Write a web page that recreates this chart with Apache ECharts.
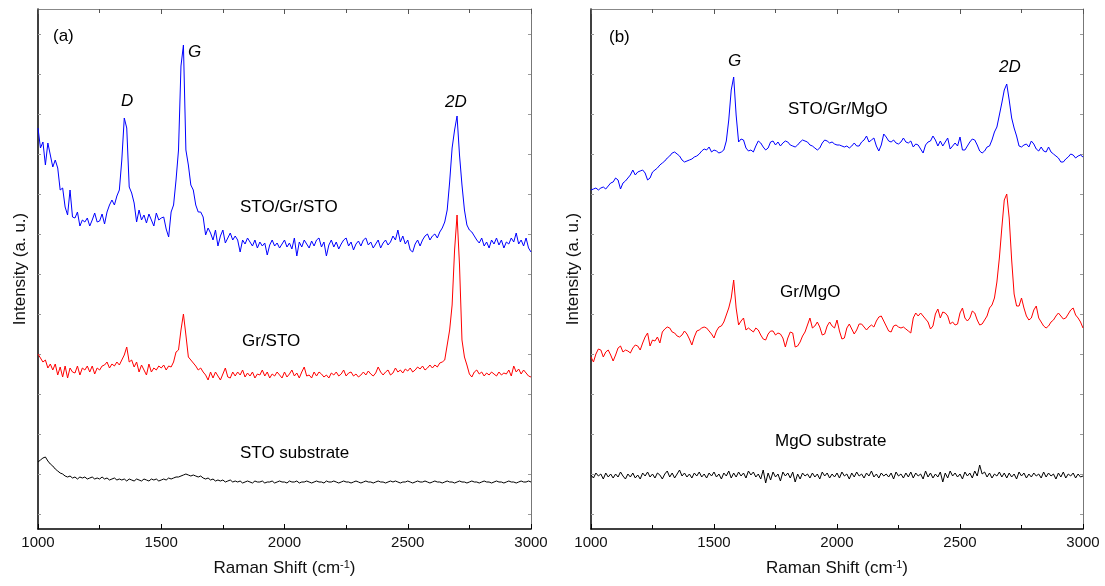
<!DOCTYPE html>
<html>
<head>
<meta charset="utf-8">
<script src="https://cdn.jsdelivr.net/npm/echarts@6/dist/echarts.min.js"></script>
<style>
  html, body { margin: 0; padding: 0; background: #fff; }
  #chart { width: 1105px; height: 586px; }
</style>
</head>
<body>
<div id="chart"></div>
<script>
// Raman shift grid: 1000 .. 3000 cm-1, one sample every 10 cm-1
var X_START = 1000;
var X_STEP = 10;

// (a) STO/Gr/STO
var stoGrSto = [
  872,852,858,835,857,845,833,840,832,810,
  812,793,785,810,783,782,788,774,780,778,
  782,774,780,787,778,779,786,776,788,795,
  800,795,804,810,840,882,872,813,807,797,
  778,790,780,785,777,786,780,774,787,780,
  782,783,771,763,788,795,820,850,934,955,
  850,835,815,810,795,788,788,783,765,772,
  767,760,770,754,764,770,757,762,767,760,
  764,760,748,760,756,762,758,754,760,752,
  758,754,757,745,755,760,754,757,752,756,
  760,753,757,751,762,744,758,753,760,756,
  752,759,754,760,762,753,758,744,755,760,
  753,758,751,756,760,762,754,758,750,756,
  759,754,760,762,755,758,752,756,760,752,
  757,760,755,758,764,760,770,758,764,756,
  760,750,748,756,760,754,760,764,766,760,
  764,766,762,768,772,778,790,818,852,870,
  884,845,815,790,775,770,768,764,760,757,
  762,754,758,752,760,756,762,755,760,752,
  758,756,762,758,767,756,760,754,762,752,
  748
];
// (a) Gr/STO
var grSto = [
  646,642,638,640,632,636,630,636,625,633,
  623,634,622,632,628,627,634,625,632,630,
  634,628,634,626,632,630,634,635,638,632,
  636,634,638,635,640,645,653,638,640,633,
  638,628,635,630,625,636,628,632,630,634,
  632,635,630,634,633,638,648,650,670,686,
  665,643,640,637,634,630,632,628,625,620,
  628,622,628,624,620,626,632,623,622,628,
  624,628,625,630,623,627,624,628,622,626,
  625,630,624,628,622,626,624,628,625,622,
  628,623,626,630,624,627,622,628,633,624,
  625,622,628,624,628,626,623,625,622,627,
  625,628,624,626,630,624,627,628,624,626,
  623,625,628,625,629,626,624,627,633,628,
  625,628,630,625,627,632,628,630,627,631,
  629,632,628,630,633,631,634,630,632,635,
  632,635,633,637,638,640,655,670,695,750,
  785,735,660,643,635,626,623,628,630,626,
  628,624,627,625,628,626,624,628,625,627,
  626,630,624,634,628,631,626,630,627,624,
  623
];
// (a) STO substrate
var stoSub = [
  538,540,542,543,539,536,534,531,529,527,
  526,524,523,524,522,523,521,523,522,523,
  521,522,523,521,522,521,523,521,522,520,
  521,522,520,521,520,521,519,521,520,519,
  521,520,519,521,520,519,521,520,521,519,
  520,521,520,522,521,522,523,523,524,525,
  526,525,524,525,524,523,524,522,521,522,
  520,521,519,520,519,520,518,519,520,518,
  519,518,519,517,518,519,518,517,519,518,
  518,519,517,518,518,519,517,518,519,518,
  518,517,519,518,518,519,517,518,518,519,
  518,517,518,519,518,518,517,519,518,518,
  519,518,517,518,519,518,518,517,518,519,
  518,517,518,519,518,518,517,518,519,518,
  518,517,518,519,518,519,518,517,518,518,
  519,518,517,518,519,518,518,519,518,517,
  518,519,518,518,517,518,519,518,518,517,
  518,519,518,518,517,518,519,518,518,517,
  518,519,518,518,517,518,519,518,518,517,
  518,519,518,518,517,518,519,518,518,519,
  518
];
// (b) STO/Gr/MgO
var stoGrMgo = [
  810,811,812,810,812,813,811,814,817,818,
  822,820,811,817,819,822,825,830,825,828,
  829,830,827,820,822,828,830,832,835,837,
  839,842,844,847,848,846,844,840,838,839,
  840,841,843,844,846,849,851,850,853,848,
  850,849,847,848,850,859,880,910,923,885,
  858,861,860,852,849,850,848,854,859,857,
  853,850,852,858,859,855,858,854,857,859,
  858,855,854,853,855,858,860,859,858,855,
  854,852,850,852,857,860,859,857,858,856,
  855,855,854,853,854,852,854,857,854,854,
  858,860,864,858,860,862,854,849,855,866,
  863,859,858,860,857,856,858,862,858,857,
  859,853,856,855,851,847,855,858,859,864,
  860,854,859,854,858,862,851,854,857,854,
  863,850,850,854,858,861,860,855,849,847,
  849,853,854,860,868,873,885,897,910,916,
  900,882,872,864,854,853,855,856,853,859,
  856,851,849,853,849,848,853,848,846,844,
  842,838,838,841,843,846,845,842,844,845,
  843
];
// (b) Gr/MgO
var grMgo = [
  643,638,646,651,650,643,648,650,645,639,
  645,652,654,648,650,649,647,652,655,654,
  650,657,663,667,654,660,659,663,657,668,
  671,673,672,668,667,664,663,665,669,666,
  661,655,663,669,670,672,673,672,669,666,
  662,669,673,674,678,685,692,702,720,692,
  675,679,682,670,672,670,668,672,670,665,
  661,660,666,669,669,665,667,666,662,653,
  662,668,667,653,654,658,664,668,675,682,
  672,674,678,673,665,666,674,678,674,672,
  680,669,661,662,672,676,671,666,670,676,
  676,673,670,673,675,673,679,683,684,679,
  674,669,668,674,675,673,672,673,671,669,
  667,682,687,684,687,684,681,678,671,674,
  686,691,682,688,687,684,676,678,675,676,
  687,692,682,679,682,689,687,680,675,676,
  680,684,692,695,702,718,742,772,800,806,
  782,740,706,694,694,702,692,684,680,682,
  690,694,682,678,674,672,674,678,680,684,
  687,684,681,682,686,690,692,685,682,678,
  672
];
// (b) MgO substrate
var mgoSub = [
  525,522,527,524,526,521,527,523,526,522,
  526,523,528,524,521,526,523,527,522,525,
  521,527,524,528,523,526,522,527,525,521,
  526,529,523,527,522,526,530,524,527,523,
  526,522,527,524,528,523,526,522,527,524,
  528,523,526,521,527,524,529,522,527,523,
  528,524,527,522,529,525,528,523,526,521,
  530,517,527,520,528,523,526,519,528,524,
  527,522,528,518,526,521,527,524,526,522,
  527,523,526,521,528,524,527,522,526,523,
  527,522,528,524,526,521,527,523,528,524,
  526,522,527,524,529,523,526,522,527,524,
  526,523,527,521,528,524,526,522,527,523,
  528,522,527,524,526,521,529,523,527,522,
  526,523,528,518,527,522,529,524,527,523,
  526,521,528,524,527,522,529,524,535,526,
  528,523,527,522,526,524,528,523,527,522,
  527,523,526,521,528,524,527,522,526,523,
  527,524,526,522,528,523,527,524,526,521,
  527,523,528,522,526,524,527,522,526,523,
  524
];

function pairs(ys) {
  return ys.map(function (y, i) { return [X_START + i * X_STEP, y]; });
}

var FONT = 'Liberation Sans, Arial, sans-serif';
var Y_MIN = 471, Y_MAX = 991;

// plot frames, then two strips that only carry the small intensity ticks
var grids = [
  { left: 38, top: 9, width: 493, height: 520 },
  { left: 591, top: 9, width: 492, height: 520 },
  { left: 38, top: 34, width: 493, height: 480 },
  { left: 591, top: 34, width: 492, height: 480 }
];

var xAxes = [], yAxes = [];
for (var g = 0; g < 2; g++) {
  // bottom axis with labels
  xAxes.push({
    type: 'value', gridIndex: g, position: 'bottom',
    min: 1000, max: 3000, interval: 500,
    name: 'Raman Shift (cm{sup|-1})', nameLocation: 'middle', nameGap: 30,
    nameTextStyle: { fontFamily: FONT, fontSize: 17, color: '#111',
      rich: { sup: { fontFamily: FONT, fontSize: 11, verticalAlign: 'top', padding: [0, 0, 8, 0], color: '#111' } } },
    axisLine: { show: true, onZero: false, lineStyle: { color: '#000', width: 1.5 } },
    axisTick: { show: true, inside: true, length: 5, lineStyle: { color: '#000' } },
    minorTick: { show: true, splitNumber: 2, length: 4, lineStyle: { color: '#000' } },
    axisLabel: { fontFamily: FONT, fontSize: 15, color: '#111', margin: 6,
      formatter: function (v) { return String(v); } },
    splitLine: { show: false }
  });
  // top frame
  xAxes.push({
    type: 'value', gridIndex: g, position: 'top',
    min: 1000, max: 3000, interval: 500,
    axisLine: { show: true, onZero: false, lineStyle: { color: '#888', width: 1 } },
    axisTick: { show: true, inside: true, length: 5, lineStyle: { color: '#555' } },
    minorTick: { show: true, splitNumber: 2, length: 4, lineStyle: { color: '#555' } },
    axisLabel: { show: false },
    splitLine: { show: false }
  });
  // intensity axis for the spectra
  yAxes.push({
    type: 'value', gridIndex: g, position: 'left',
    min: Y_MIN, max: Y_MAX,
    name: 'Intensity (a. u.)', nameLocation: 'middle', nameGap: 9,
    nameTextStyle: { fontFamily: FONT, fontSize: 17, color: '#111' },
    axisLine: { show: true, onZero: false, lineStyle: { color: '#000', width: 1.5 } },
    axisTick: { show: false },
    axisLabel: { show: false },
    splitLine: { show: false }
  });
  // right frame
  yAxes.push({
    type: 'value', gridIndex: g, position: 'right',
    min: Y_MIN, max: Y_MAX,
    axisLine: { show: true, onZero: false, lineStyle: { color: '#777', width: 1 } },
    axisTick: { show: false },
    axisLabel: { show: false },
    splitLine: { show: false }
  });
}
// tick strips
for (var t = 2; t < 4; t++) {
  xAxes.push({ type: 'value', gridIndex: t, min: 0, max: 1, show: false });
  ['left', 'right'].forEach(function (pos) {
    yAxes.push({
      type: 'value', gridIndex: t, position: pos,
      min: 0, max: 480, interval: 40,
      axisLine: { show: false, onZero: false },
      axisTick: { show: true, inside: true, length: 3, lineStyle: { color: '#999' } },
      axisLabel: { show: false },
      splitLine: { show: false }
    });
  });
}

function spectrum(ys, color, g) {
  return {
    type: 'line', xAxisIndex: g * 2, yAxisIndex: g * 2,
    data: pairs(ys), showSymbol: false, symbol: 'none',
    lineStyle: { color: color, width: 1 }, silent: true, animation: false
  };
}

function label(text, x, y, italic) {
  return {
    type: 'text', left: x, top: y,
    style: { text: text, fontFamily: FONT, fontSize: 17,
      fontStyle: italic ? 'italic' : 'normal', fill: '#000' }
  };
}

var chart = echarts.init(document.getElementById('chart'));
chart.setOption({
  backgroundColor: '#fff',
  animation: false,
  grid: grids,
  xAxis: xAxes,
  yAxis: yAxes,
  series: [
    spectrum(stoGrSto, '#0000ff', 0),
    spectrum(grSto, '#ff0000', 0),
    spectrum(stoSub, '#000000', 0),
    spectrum(stoGrMgo, '#0000ff', 1),
    spectrum(grMgo, '#ff0000', 1),
    spectrum(mgoSub, '#000000', 1)
  ],
  graphic: [
    label('(a)', 53, 28, false),
    label('D', 121, 93, true),
    label('G', 188, 44, true),
    label('2D', 445, 94, true),
    label('STO/Gr/STO', 240, 199, false),
    label('Gr/STO', 242, 333, false),
    label('STO substrate', 240, 445, false),
    label('(b)', 609, 29, false),
    label('G', 728, 53, true),
    label('2D', 999, 59, true),
    label('STO/Gr/MgO', 788, 101, false),
    label('Gr/MgO', 780, 284, false),
    label('MgO substrate', 775, 433, false)
  ]
});
</script>
</body>
</html>
